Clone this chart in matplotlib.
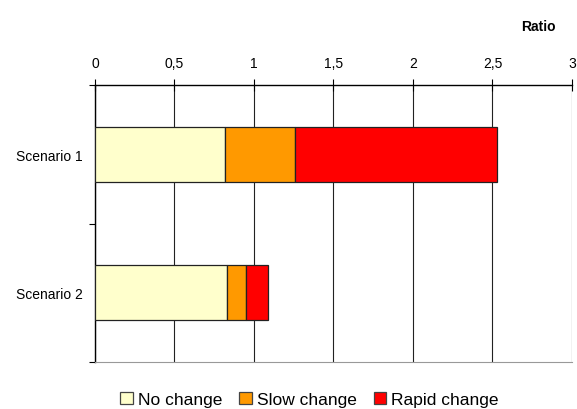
import matplotlib.pyplot as plt
from matplotlib.ticker import FuncFormatter

plt.rcParams['font.family'] = ['Liberation Sans', 'DejaVu Sans']

scenarios = ["Scenario 1", "Scenario 2"]
no_change = [0.82, 0.83]
slow_change = [0.44, 0.12]
rapid_change = [1.27, 0.14]

series = ["No change", "Slow change", "Rapid change"]
colors = ["#ffffcc", "#ff9900", "#ff0000"]

fig = plt.figure(figsize=(5.77, 4.10), dpi=100)
ax = fig.add_axes([0.1646, 0.1146, 0.8267, 0.6756])

ypos = [0, 1]
left = [0, 0]
for vals, name, col in zip([no_change, slow_change, rapid_change], series, colors):
    ax.barh(ypos, vals, left=left, height=0.4, color=col, edgecolor="#222222",
            linewidth=0.9, label=name, zorder=3)
    left = [l + v for l, v in zip(left, vals)]

ax.set_xlim(0, 3)
ax.set_ylim(1.5, -0.5)

# value axis on top with comma decimals
ax.xaxis.tick_top()
ax.set_xticks([0, 0.5, 1, 1.5, 2, 2.5, 3])
ax.xaxis.set_major_formatter(FuncFormatter(lambda v, p: f"{v:g}".replace(".", ",")))
ax.tick_params(axis="x", direction="inout", length=8, width=0.8, labelsize=10, pad=7)
ax.grid(axis="x", color="#222222", linewidth=0.8, zorder=0)

ax.set_yticks([-0.5, 0.5, 1.5])
ax.set_yticklabels([])
ax.set_yticks(ypos, minor=True)
ax.set_yticklabels(scenarios, minor=True, fontsize=10)
ax.tick_params(axis="y", which="minor", length=0, pad=9)
ax.tick_params(axis="y", which="major", direction="out", length=4, width=0.8)

ax.spines["right"].set_visible(False)
ax.spines["bottom"].set_color("#999999")
ax.spines["top"].set_linewidth(1.0)
ax.spines["left"].set_linewidth(1.0)

fig.text(0.963, 0.925, "Ratio", fontsize=10, fontweight="bold", ha="right")

leg = ax.legend(loc="lower center", bbox_to_anchor=(0.45, -0.22), ncol=3, frameon=False,
                fontsize=12.5, handlelength=0.7, handleheight=0.7, handletextpad=0.3,
                columnspacing=1.0)
for h in leg.legend_handles:
    h.set_edgecolor("#444444")

fig.savefig("out.png", dpi=100)
